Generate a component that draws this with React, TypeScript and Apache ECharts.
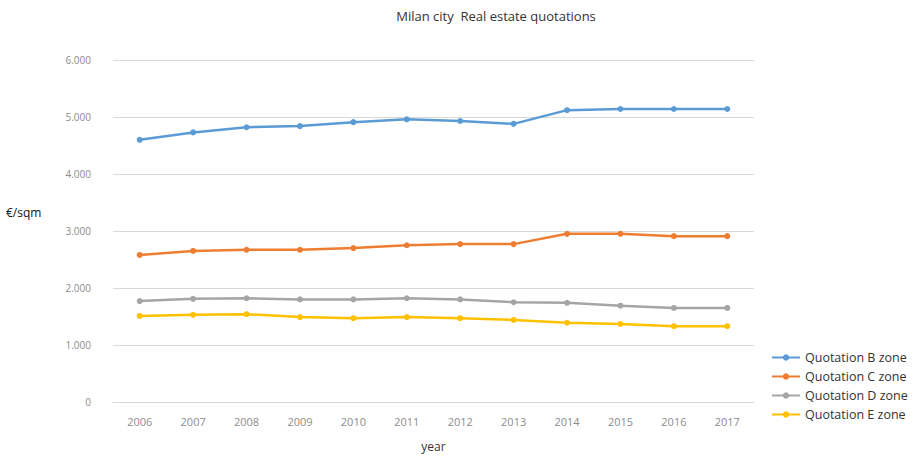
import React, { useEffect, useRef } from "react";
import * as echarts from "echarts";

const years = ["2006", "2007", "2008", "2009", "2010", "2011", "2012", "2013", "2014", "2015", "2016", "2017"];
const zoneB = [4600, 4730, 4820, 4840, 4910, 4960, 4930, 4880, 5120, 5140, 5140, 5140];
const zoneC = [2580, 2650, 2670, 2670, 2700, 2750, 2770, 2770, 2950, 2950, 2910, 2910];
const zoneD = [1770, 1810, 1820, 1800, 1800, 1820, 1800, 1750, 1740, 1690, 1650, 1650];
const zoneE = [1510, 1530, 1540, 1490, 1470, 1490, 1470, 1440, 1390, 1370, 1330, 1330];
const seriesNames = ["Quotation B zone", "Quotation C zone", "Quotation D zone", "Quotation E zone"];
const colors = ["#5B9BD5", "#ED7D31", "#A5A5A5", "#FFC000"];

const FONT = "Open Sans";

export default function App() {
  const ref = useRef<HTMLDivElement>(null);
  useEffect(() => {
    const chart = echarts.init(ref.current!, undefined, { renderer: "svg" });
    const data = [zoneB, zoneC, zoneD, zoneE];
    chart.setOption({
      animation: false,
      backgroundColor: "#ffffff",
      textStyle: { fontFamily: FONT },
      title: {
        text: "Milan city  Real estate quotations",
        left: 491,
        top: 4,
        textAlign: "center",
        textStyle: { fontSize: 13, fontWeight: "normal", color: "#333", fontFamily: FONT },
      },
      grid: { left: 113, right: 164, top: 60, bottom: 57, containLabel: false },
      xAxis: {
        type: "category",
        data: years,
        boundaryGap: true,
        axisLine: { lineStyle: { color: "#d9d9d9" } },
        axisTick: { show: false },
        axisLabel: { color: "#8c8c8c", fontSize: 11, margin: 14, fontFamily: FONT },
        name: "year",
        nameLocation: "middle",
        nameGap: 38,
        nameTextStyle: { color: "#333", fontSize: 12, fontFamily: FONT },
      },
      yAxis: {
        type: "value",
        min: 0,
        max: 6000,
        interval: 1000,
        axisLine: { show: false },
        axisTick: { show: false },
        splitLine: { lineStyle: { color: "#d9d9d9" } },
        axisLabel: {
          color: "#8c8c8c",
          fontSize: 10,
          margin: 22,
          fontFamily: FONT,
          formatter: (v: number) => (v === 0 ? "0" : String(v).replace(/(\d)(?=(\d{3})+$)/g, "$1.")),
        },
      },
      legend: {
        orient: "vertical",
        left: 766,
        top: 346,
        itemGap: 6,
        itemWidth: 28,
        itemHeight: 8,
        textStyle: { color: "#333", fontSize: 12.5, fontFamily: FONT },
        data: seriesNames,
      },
      graphic: [
        {
          type: "text",
          left: 6,
          top: 206,
          style: { text: "€/sqm", fontSize: 12, fill: "#111", fontFamily: FONT },
        },
      ],
      series: seriesNames.map((name, i) => ({
        name,
        type: "line",
        data: data[i],
        symbol: "circle",
        symbolSize: 6,
        showSymbol: true,
        lineStyle: { width: 2.5, color: colors[i] },
        itemStyle: { color: colors[i] },
      })),
    });
    return () => chart.dispose();
  }, []);
  return <div ref={ref} style={{ position: "fixed", left: 0, top: 0, width: 918, height: 459 }} />;
}
